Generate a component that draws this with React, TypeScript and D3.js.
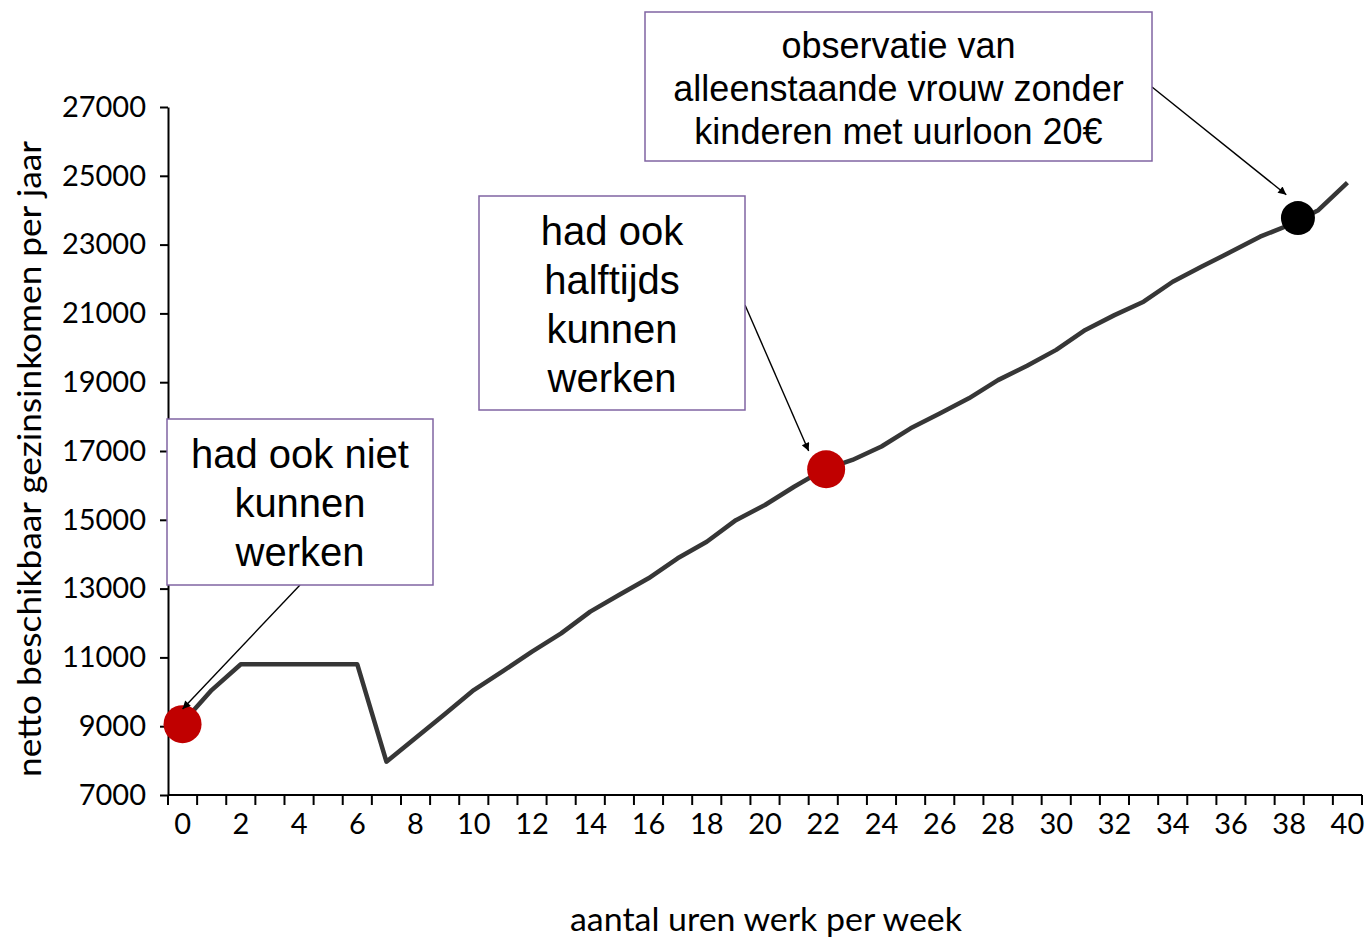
import * as d3 from "d3";
import { useEffect, useRef } from "react";

// hours worked per week
const hours = d3.range(0, 41);
// net disposable household income per year
const income = [
    9100, 10050, 10800, 10800, 10800, 10800, 10800, 7970, 8660, 9350,
    10050, 10600, 11170, 11700, 12330, 12820, 13300, 13880, 14360, 14990,
    15430, 15960, 16450, 16740, 17130, 17660, 18090, 18530, 19060, 19480,
    19940, 20520, 20950, 21340, 21920, 22360, 22790, 23230, 23570, 24000,
    24800,
];
const yTicks = d3.range(7000, 27001, 2000);
const xTickLabels = d3.range(0, 41, 2);

// highlighted observations
const dots = [
    { hour: 0, value: 9060, color: "#C00000", r: 19 },
    { hour: 22.1, value: 16470, color: "#C00000", r: 19 },
    { hour: 38.3, value: 23770, color: "#000000", r: 17 },
];

// callout boxes (pixel layout) and arrow tips (data space)
const callouts = [
    {
        lines: ["had ook niet", "kunnen", "werken"],
        box: [167, 419, 266, 166], size: 40, first: 468, step: 49,
        from: [300, 585], tip: { hour: 0, value: 9500 },
    },
    {
        lines: ["had ook", "halftijds", "kunnen", "werken"],
        box: [479, 196, 266, 214], size: 40, first: 245, step: 49,
        from: [745, 305], tip: { hour: 21.5, value: 17000 },
    },
    {
        lines: ["observatie van", "alleenstaande vrouw zonder", "kinderen met uurloon 20€"],
        box: [645, 12, 507, 149], size: 36, first: 58, step: 43,
        from: [1152, 87], tip: { hour: 37.9, value: 24450 },
    },
];

const W = 1369, H = 940;

const App: React.FC = () => {
    const svgRef = useRef<SVGSVGElement | null>(null);

    useEffect(() => {
        const svg = d3.select(svgRef.current);
        svg.selectAll("*").remove();

        const x = d3.scaleLinear().domain([-0.5, 40.5]).range([168, 1362]);
        const y = d3.scaleLinear().domain([7000, 27000]).range([795, 107]);

        svg.append("rect").attr("width", W).attr("height", H).attr("fill", "#fff");

        svg.append("defs").append("marker")
            .attr("id", "arrow")
            .attr("viewBox", "0 0 10 10")
            .attr("refX", 10).attr("refY", 5)
            .attr("markerWidth", 11).attr("markerHeight", 8)
            .attr("markerUnits", "userSpaceOnUse")
            .attr("orient", "auto")
            .append("path").attr("d", "M0,0 L10,5 L0,10 Z").attr("fill", "#000");

        // ** Y axis **
        const gy = svg.append("g")
            .attr("transform", `translate(${x(-0.5)},0)`)
            .call(d3.axisLeft(y).tickValues(yTicks).tickSize(8).tickSizeOuter(0).tickPadding(14).tickFormat(d3.format("d")));
        gy.select(".domain").attr("stroke", "#000").attr("stroke-width", 2);
        gy.selectAll(".tick line").attr("stroke", "#000").attr("stroke-width", 2);
        gy.selectAll(".tick text").attr("font-family", "Lato, sans-serif").attr("font-size", 29).attr("fill", "#000");

        // ** X axis: category ticks between hours **
        const gx = svg.append("g").attr("transform", `translate(0,${y(7000)})`);
        gx.append("line")
            .attr("x1", x(-0.5)).attr("x2", x(40.5))
            .attr("stroke", "#000").attr("stroke-width", 2);
        gx.selectAll("line.t")
            .data(d3.range(-0.5, 40.6, 1))
            .join("line").attr("class", "t")
            .attr("x1", d => x(d)).attr("x2", d => x(d))
            .attr("y1", 0).attr("y2", 10)
            .attr("stroke", "#000").attr("stroke-width", 2);
        gx.selectAll("text")
            .data(xTickLabels)
            .join("text")
            .attr("x", d => x(d)).attr("y", 39)
            .attr("text-anchor", "middle")
            .attr("font-family", "Lato, sans-serif").attr("font-size", 29)
            .text(d => d);

        // ** Axis titles **
        svg.append("text")
            .attr("transform", `translate(41,459) rotate(-90)`)
            .attr("text-anchor", "middle")
            .attr("font-family", "Lato, sans-serif").attr("font-size", 32)
            .attr("textLength", 636).attr("lengthAdjust", "spacingAndGlyphs")
            .text("netto beschikbaar gezinsinkomen per jaar");
        svg.append("text")
            .attr("x", 766).attr("y", 931)
            .attr("text-anchor", "middle")
            .attr("font-family", "Lato, sans-serif").attr("font-size", 32)
            .attr("textLength", 392).attr("lengthAdjust", "spacingAndGlyphs")
            .text("aantal uren werk per week");

        // ** Income line **
        const line = d3.line<number>().x((_, i) => x(hours[i])).y(d => y(d));
        svg.append("path")
            .datum(income)
            .attr("d", line)
            .attr("fill", "none")
            .attr("stroke", "#363636")
            .attr("stroke-width", 4.5)
            .attr("stroke-linejoin", "round");

        // ** Dots **
        svg.selectAll("circle.dot")
            .data(dots)
            .join("circle").attr("class", "dot")
            .attr("cx", d => x(d.hour)).attr("cy", d => y(d.value))
            .attr("r", d => d.r).attr("fill", d => d.color);

        // ** Callouts **
        callouts.forEach(c => {
            const [bx, by, bw, bh] = c.box;
            svg.append("line")
                .attr("x1", c.from[0]).attr("y1", c.from[1])
                .attr("x2", x(c.tip.hour)).attr("y2", y(c.tip.value))
                .attr("stroke", "#000").attr("stroke-width", 1.4)
                .attr("marker-end", "url(#arrow)");
            svg.append("rect")
                .attr("x", bx).attr("y", by).attr("width", bw).attr("height", bh)
                .attr("fill", "#fff").attr("stroke", "#8064A2").attr("stroke-width", 1.5);
            svg.append("g").selectAll("text")
                .data(c.lines)
                .join("text")
                .attr("x", bx + bw / 2)
                .attr("y", (_, i) => c.first + i * c.step)
                .attr("text-anchor", "middle")
                .attr("font-family", "'Liberation Sans', Arial, sans-serif")
                .attr("font-size", c.size)
                .text(d => d);
        });
    }, []);

    return (
        <svg ref={svgRef} width={W} height={H}
            style={{ position: "absolute", left: 0, top: 0 }} />
    );
};

export default App;
